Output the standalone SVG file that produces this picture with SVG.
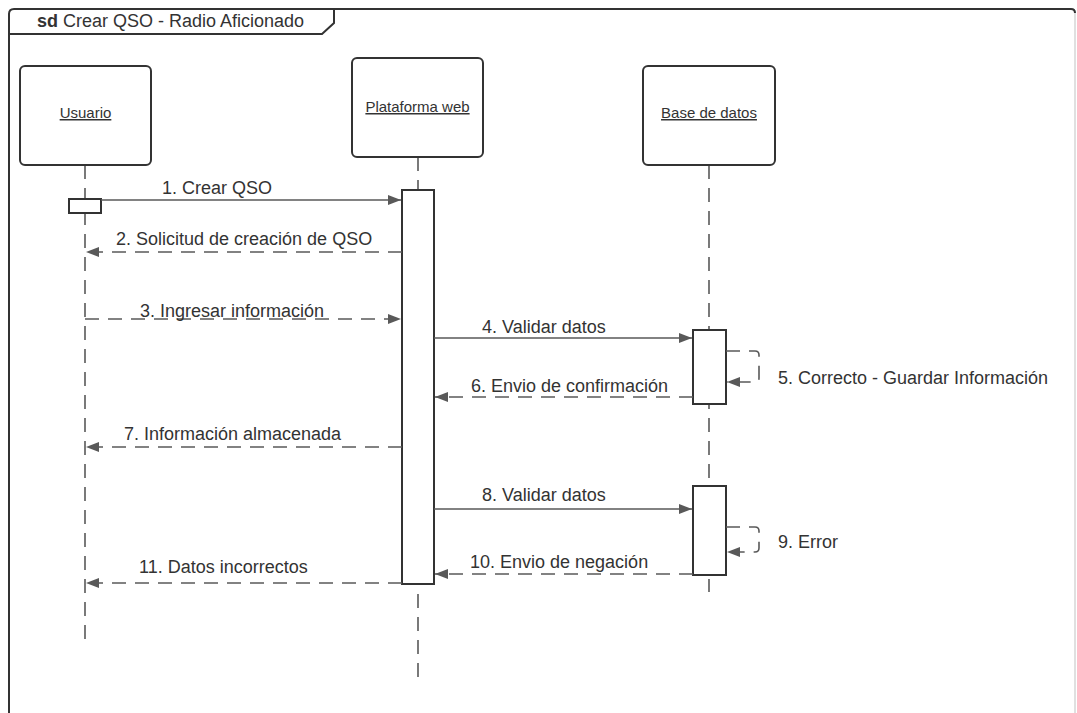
<svg xmlns="http://www.w3.org/2000/svg" width="1077" height="713" viewBox="0 0 1077 713">
  <style>
    .txt { font-family: "Liberation Sans", Arial, sans-serif; fill: #333333; }
    .msg { font-size: 18px; }
    .node-label { font-size: 15px; text-decoration: underline; }
    .box { fill: #ffffff; stroke: #333333; stroke-width: 2; }
    .act { fill: #ffffff; stroke: #333333; stroke-width: 2; }
    .lifeline { fill: none; stroke: #595959; stroke-width: 1.6; stroke-dasharray: 14 9; }
    .sync { fill: none; stroke: #595959; stroke-width: 1.6; }
    .reply { fill: none; stroke: #595959; stroke-width: 1.6; stroke-dasharray: 14 9; }
  </style>
  <defs>
    <marker id="arrow" markerUnits="userSpaceOnUse" markerWidth="14" markerHeight="12" refX="13" refY="6" orient="auto">
      <path d="M0,1 L13,6 L0,11 Z" fill="#595959"/>
    </marker>
  </defs>

  <rect width="1077" height="713" fill="#ffffff"/>

  <!-- diagram frame with name tab -->
  <g id="frame">
    <path d="M9,713 V14 Q9,9 14,9 H1071 Q1075,9 1075,13" fill="none" stroke="#333333" stroke-width="2"/>
    <path d="M1075,13 V713" fill="none" stroke="#d6d6d6" stroke-width="1.5"/>
    <path d="M9,34 H322 L334,23 V9" fill="none" stroke="#333333" stroke-width="2"/>
    <text class="txt" x="37" y="27" font-size="18"><tspan font-weight="bold">sd</tspan> Crear QSO - Radio Aficionado</text>
  </g>

  <!-- lifelines -->
  <g id="lifelines">
    <path class="lifeline" d="M85,165 V640"/>
    <path class="lifeline" d="M418,157 V686"/>
    <path class="lifeline" d="M709,165 V592"/>
  </g>

  <g id="usuario">
    <rect class="box" x="20" y="66" width="131" height="99" rx="5"/>
    <text class="txt node-label" x="85.5" y="118" text-anchor="middle">Usuario</text>
    <rect class="act" x="69" y="199" width="32" height="14"/>
  </g>

  <g id="plataforma-web">
    <rect class="box" x="352" y="58" width="131" height="99" rx="5"/>
    <text class="txt node-label" x="417.5" y="112" text-anchor="middle">Plataforma web</text>
    <rect class="act" x="402" y="190" width="32" height="394"/>
  </g>

  <g id="base-de-datos">
    <rect class="box" x="643" y="66" width="132" height="99" rx="5"/>
    <text class="txt node-label" x="709" y="118" text-anchor="middle">Base de datos</text>
    <rect class="act" x="693" y="330" width="33" height="74"/>
    <rect class="act" x="693" y="486" width="33" height="89"/>
  </g>

  <!-- messages -->
  <g id="connectors">
    <path class="sync" d="M101,200 H401" marker-end="url(#arrow)"/>
    <path class="reply" d="M402,252 H86" marker-end="url(#arrow)"/>
    <path class="reply" d="M85,319 H401" marker-end="url(#arrow)"/>
    <path class="sync" d="M434,338 H692" marker-end="url(#arrow)"/>
    <path class="reply" d="M726,351 H755 Q759,351 759,355 V378 Q759,382 755,382 H727" marker-end="url(#arrow)"/>
    <path class="reply" d="M693,397 H435" marker-end="url(#arrow)"/>
    <path class="reply" d="M402,447 H86" marker-end="url(#arrow)"/>
    <path class="sync" d="M434,509 H692" marker-end="url(#arrow)"/>
    <path class="reply" d="M726,527 H755 Q759,527 759,531 V548 Q759,552 755,552 H727" marker-end="url(#arrow)"/>
    <path class="reply" d="M693,574 H435" marker-end="url(#arrow)"/>
    <path class="reply" d="M402,583 H86" marker-end="url(#arrow)"/>
  </g>

  <g id="message-labels">
    <text class="txt msg" x="162" y="194">1. Crear QSO</text>
    <text class="txt msg" x="116" y="245">2. Solicitud de creación de QSO</text>
    <text class="txt msg" x="140" y="317">3. Ingresar información</text>
    <text class="txt msg" x="482" y="333">4. Validar datos</text>
    <text class="txt msg" x="778" y="384">5. Correcto - Guardar Información</text>
    <text class="txt msg" x="471" y="392">6. Envio de confirmación</text>
    <text class="txt msg" x="124" y="440">7. Información almacenada</text>
    <text class="txt msg" x="482" y="501">8. Validar datos</text>
    <text class="txt msg" x="778" y="548">9. Error</text>
    <text class="txt msg" x="470" y="568">10. Envio de negación</text>
    <text class="txt msg" x="139" y="573">11. Datos incorrectos</text>
  </g>
</svg>
